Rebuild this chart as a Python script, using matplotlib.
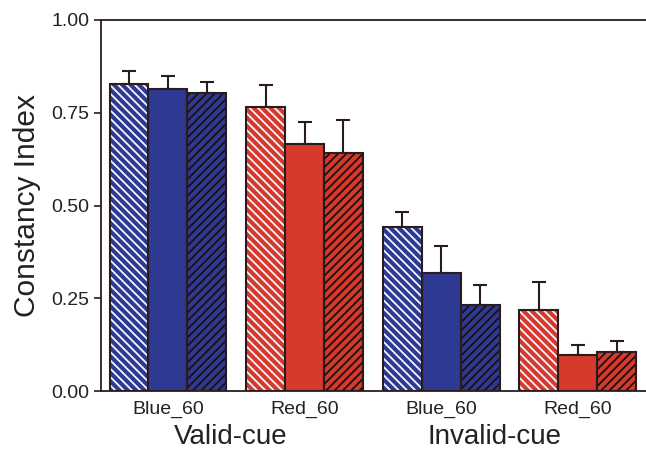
import matplotlib
matplotlib.use("Agg")
import matplotlib.pyplot as plt
import numpy as np

plt.rcParams['font.family'] = ['Liberation Sans', 'DejaVu Sans']
plt.rcParams['hatch.linewidth'] = 1.3

groups = ["Blue_60", "Red_60", "Blue_60", "Red_60"]
cue_labels = ["Valid-cue", "Invalid-cue"]

# three conditions per group (light-hatched, solid, dark-hatched)
means_a = [0.827, 0.765, 0.441, 0.219]
means_b = [0.814, 0.667, 0.317, 0.097]
means_c = [0.802, 0.642, 0.231, 0.106]
err_a = [0.035, 0.060, 0.041, 0.075]
err_b = [0.034, 0.059, 0.075, 0.028]
err_c = [0.031, 0.088, 0.055, 0.029]

blue = '#2e3a92'
red = '#d63a2c'
edge = '#2a1c1c'
face_colors = [blue, red, blue, red]

fig = plt.figure(figsize=(6.46, 4.49), dpi=100)
ax = fig.add_axes([101 / 646, 58 / 449, 1 - 101 / 646, 371 / 449])

x = np.arange(len(groups))
w = 0.285

series = [
    (means_a, err_a, '\\\\\\\\', '#f4f6ff'),
    (means_b, err_b, None, None),
    (means_c, err_c, '////', '#1a1010'),
]

for k, (m, e, hatch, hcol) in enumerate(series):
    pos = x + (k - 1) * w
    ax.errorbar(pos, m, yerr=[np.zeros(len(m)), e], fmt='none',
                ecolor=edge, elinewidth=1.5, capsize=5, capthick=1.5, zorder=1)
    if hatch:
        ax.bar(pos, m, w, color=face_colors, hatch=hatch, edgecolor=hcol,
               linewidth=0, zorder=2)
    else:
        ax.bar(pos, m, w, color=face_colors, linewidth=0, zorder=2)
    ax.bar(pos, m, w, facecolor='none', edgecolor=edge, linewidth=1.5, zorder=3)

ax.set_xlim(-0.49, 3.5)
ax.set_ylim(0, 1.0)
ax.set_yticks([0, 0.25, 0.5, 0.75, 1.0])
ax.set_yticklabels(['0.00', '0.25', '0.50', '0.75', '1.00'])
ax.set_xticks(x)
ax.set_xticklabels(groups)
ax.tick_params(axis='x', length=0, labelsize=14, pad=7, colors='#222222')
ax.tick_params(axis='y', length=5, width=1.2, labelsize=14, color=edge,
               labelcolor='#222222')
ax.set_ylabel('Constancy Index', fontsize=21.5, labelpad=7, color='#222222')

for s in ['left', 'top', 'bottom']:
    ax.spines[s].set_color(edge)
    ax.spines[s].set_linewidth(1.3)
ax.spines['right'].set_visible(False)

for cx, lab in zip([0.46, 2.39], cue_labels):
    ax.text(cx, -0.125, lab, transform=ax.get_xaxis_transform(),
            ha='center', va='center', fontsize=20, color='#222222')

fig.savefig('out.png', dpi=100)
